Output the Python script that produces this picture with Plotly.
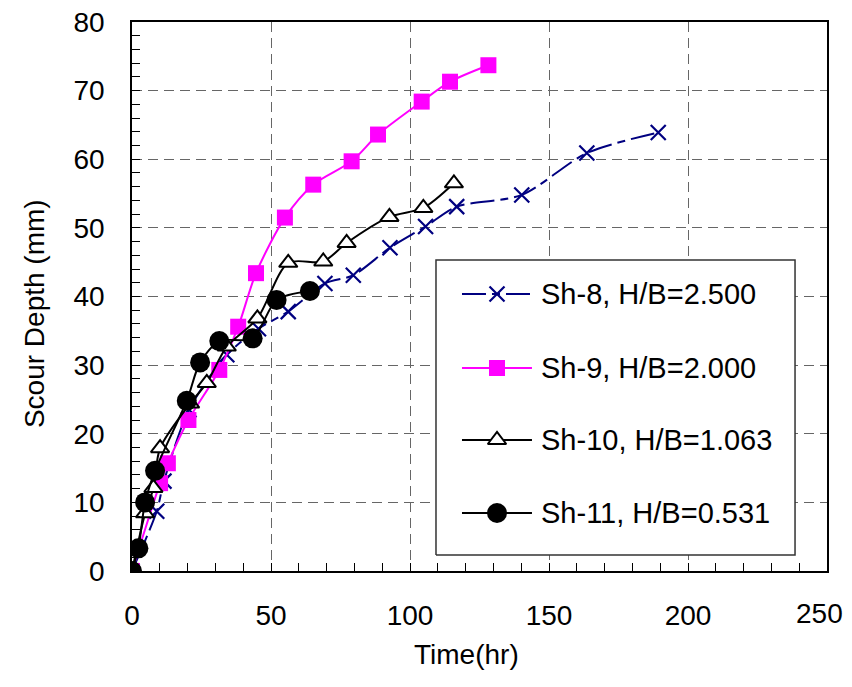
import plotly.graph_objects as go

# ---- data ----
sh8_t = [0, 8.9, 11.5, 20.5, 34.1, 45.5, 56.2, 69.4, 79.6, 92.8, 105.6, 116.8, 140.2, 163.6, 189.3]
sh8_d = [0, 8.7, 13.1, 23.5, 31.5, 35.3, 37.8, 41.9, 43.1, 47.1, 50.2, 53.1, 54.8, 60.9, 63.9]

sh9_t = [0, 10.1, 12.9, 20.3, 31.4, 38.2, 44.6, 55.0, 65.2, 79.0, 88.5, 104.2, 114.4, 128.2]
sh9_d = [0, 12.8, 15.7, 22.0, 29.3, 35.6, 43.4, 51.5, 56.3, 59.7, 63.6, 68.4, 71.3, 73.7]

sh10_t = [0, 4.7, 7.7, 10.1, 20.9, 26.9, 34.1, 45.1, 56.2, 68.8, 77.2, 92.6, 104.8, 115.8]
sh10_d = [0, 8.4, 12.1, 17.9, 24.4, 27.4, 32.7, 36.8, 44.9, 45.1, 47.8, 51.6, 52.9, 56.5]

sh11_t = [0, 2.3, 4.7, 8.3, 19.7, 24.5, 31.4, 43.4, 52.0, 64.0]
sh11_d = [0, 3.3, 10.0, 14.6, 24.8, 30.4, 33.5, 33.9, 39.5, 40.8]

names = ["Sh-8, H/B=2.500", "Sh-9, H/B=2.000", "Sh-10, H/B=1.063", "Sh-11, H/B=0.531"]

x_ticks = [0, 50, 100, 150, 200, 250]
x_ticktext = ["0", "50", "100", "150", "200", ""]   # last label drawn separately (pulled inside, as in Excel)

FONT = "Liberation Sans, Arial, sans-serif"

styles = [
    dict(line=dict(color="#000080", width=2, dash="24px,6px,8px,6px"),
         marker=dict(symbol="x-thin", size=15, line=dict(color="#000080", width=2.2), color="#000080")),
    dict(line=dict(color="#FF00FF", width=2),
         marker=dict(symbol="square", size=16, color="#FF00FF", line=dict(width=0))),
    dict(line=dict(color="black", width=2),
         marker=dict(symbol="triangle-up", size=16, color="white", line=dict(color="black", width=2))),
    dict(line=dict(color="black", width=2),
         marker=dict(symbol="circle", size=20, color="black", line=dict(width=0))),
]
series = [(sh8_t, sh8_d), (sh9_t, sh9_d), (sh10_t, sh10_d), (sh11_t, sh11_d)]

fig = go.Figure()
for (t, d), nm, st in zip(series, names, styles):
    ln = dict(st["line"], shape="spline", smoothing=0.8)
    fig.add_trace(go.Scatter(x=t, y=d, name=nm, mode="lines+markers",
                             line=ln, marker=st["marker"], showlegend=False))

# ---- legend drawn on an overlay axis with fixed [0,1] range ----
box_x0, box_x1, box_y0, box_y1 = 0.4374, 0.954, 0.0291, 0.5665
fig.add_trace(go.Scatter(
    x=[box_x0, box_x1, box_x1, box_x0, box_x0], y=[box_y0, box_y0, box_y1, box_y1, box_y0],
    xaxis="x2", yaxis="y2", mode="lines", fill="toself", fillcolor="white",
    line=dict(color="#333333", width=1.5), hoverinfo="skip", showlegend=False))
row_y = [0.5046, 0.3698, 0.2386, 0.1056]
lx0, lx1, lxm, tx = 0.4748, 0.5755, 0.5252, 0.5856
annotations = []
for ry, nm, st in zip(row_y, names, styles):
    fig.add_trace(go.Scatter(x=[lx0, lx1], y=[ry, ry], xaxis="x2", yaxis="y2",
                             mode="lines", line=st["line"], hoverinfo="skip", showlegend=False))
    fig.add_trace(go.Scatter(x=[lxm], y=[ry], xaxis="x2", yaxis="y2",
                             mode="markers", marker=st["marker"], hoverinfo="skip", showlegend=False))
    annotations.append(dict(text=nm, xref="x2", yref="y2", x=tx, y=ry, xanchor="left",
                            yanchor="middle", showarrow=False,
                            font=dict(family=FONT, size=29, color="black")))

grid = dict(showgrid=True, gridcolor="#666666", gridwidth=1, griddash="10px,6px")

fig.update_xaxes(
    range=[0, 250], tickmode="array", tickvals=x_ticks, ticktext=x_ticktext, **grid,
    showline=True, linecolor="black", linewidth=1.5, mirror=True,
    ticks="inside", ticklen=8, tickcolor="black", tickwidth=1,
    minor=dict(dtick=10, tick0=0, ticks="inside", ticklen=8, tickcolor="black", showgrid=False),
    tickfont=dict(family=FONT, size=28, color="black"),
    ticklabelstandoff=19, zeroline=False, automargin=False, ticklabeloverflow="allow",
)
fig.update_yaxes(
    range=[0, 80], dtick=10, tick0=0, **grid,
    showline=True, linecolor="black", linewidth=1.5, mirror=True,
    ticks="inside", ticklen=8, tickcolor="black", tickwidth=1,
    minor=dict(dtick=2, ticks="inside", ticklen=8, tickcolor="black", showgrid=False),
    tickfont=dict(family=FONT, size=28, color="black"),
    ticklabelstandoff=20, zeroline=False, automargin=False, ticklabeloverflow="allow",
)

annotations += [
    dict(text=str(x_ticks[-1]), xref="paper", yref="paper", x=1.0, y=-0.0783,
         xanchor="right", yanchor="middle", xshift=17, showarrow=False, borderpad=0,
         font=dict(family=FONT, size=28, color="black")),
    dict(text="Time(hr)", xref="paper", yref="paper", x=0.4806, y=-0.153,
         xanchor="center", yanchor="middle", showarrow=False,
         font=dict(family=FONT, size=28, color="black")),
    dict(text="Scour Depth (mm)", xref="paper", yref="paper", x=-0.141, y=0.468,
         xanchor="center", yanchor="middle", showarrow=False, textangle=-90,
         font=dict(family=FONT, size=28, color="black")),
]

# page body adds an 8px margin, so the figure is 8px smaller and shifted accordingly
fig.update_layout(
    width=844, height=679,
    margin=dict(l=124, r=25, t=14, b=116),
    paper_bgcolor="white", plot_bgcolor="white",
    showlegend=False,
    xaxis2=dict(overlaying="x", range=[0, 1], visible=False, fixedrange=True),
    yaxis2=dict(overlaying="y", range=[0, 1], visible=False, fixedrange=True),
    annotations=annotations,
)

fig.write_html("out.html")
